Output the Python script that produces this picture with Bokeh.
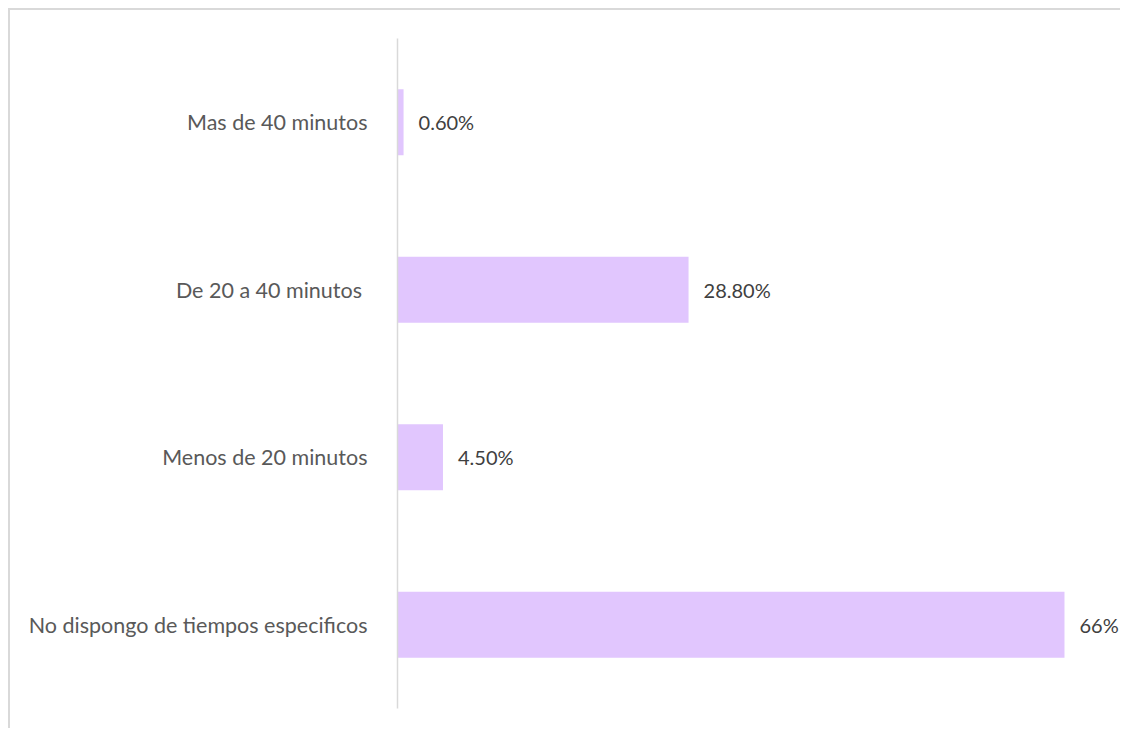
from bokeh.plotting import figure
from bokeh.models import ColumnDataSource, FactorRange
from bokeh.embed import file_html
from bokeh.resources import INLINE
from bokeh.core.properties import value

categories = ["No dispongo de tiempos especificos", "Menos de 20 minutos",
              "De 20  a 40 minutos", "Mas de 40 minutos"]
values = [66.0, 4.5, 28.8, 0.6]
labels = ["66%", "4.50%", "28.80%", "0.60%"]

FONT = "Lato"
TEXT_COLOR = "#595959"
BAR_COLOR = "#e1c6fe"

src = ColumnDataSource(dict(cat=categories, val=values, lab=labels))

# frame spans 397..1122 px -> 66% ends at ~1064 px
p = figure(width=1112, height=720, y_range=FactorRange(*categories),
           x_range=(0, 71.74), output_backend="svg", toolbar_location=None,
           min_border_left=387, min_border_top=28, min_border_bottom=22,
           min_border_right=0)
p.styles = {"border-top": "2px solid #d9d9d9",
            "border-left": "2px solid #d9d9d9",
            "margin-left": "8px", "margin-top": "8px"}

p.hbar(y="cat", left=0, right="val", height=0.395, source=src,
       fill_color=BAR_COLOR, line_color=None)
p.text(x="val", y="cat", text="lab", source=src, x_offset=15,
       text_baseline="middle", text_align="left", text_font=value(FONT),
       text_font_size="20px", text_color="#404040")

p.xaxis.visible = False
p.xgrid.grid_line_color = None
p.ygrid.grid_line_color = None
p.outline_line_color = None
p.yaxis.axis_line_color = "#d9d9d9"
p.yaxis.axis_line_width = 1.5
p.yaxis.major_tick_line_color = None
p.yaxis.minor_tick_line_color = None
p.yaxis.major_label_text_font = FONT
p.yaxis.major_label_text_font_size = "21.5px"
p.yaxis.major_label_text_color = TEXT_COLOR
p.yaxis.major_label_standoff = 24
p.y_range.range_padding = 0

open("out.html", "w").write(file_html(p, INLINE))
